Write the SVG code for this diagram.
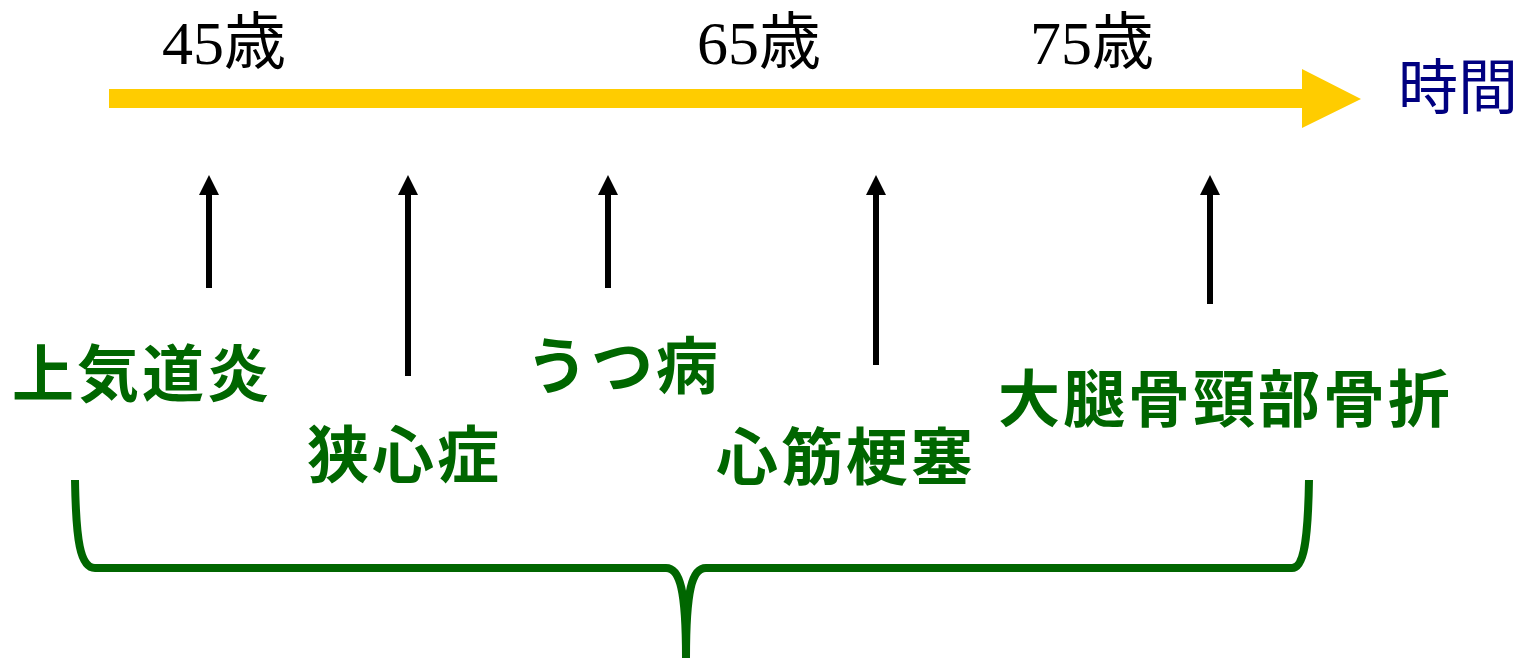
<svg xmlns="http://www.w3.org/2000/svg" width="1523" height="658" viewBox="0 0 1523 658">
<style>
.age{font-family:"Liberation Serif","Noto Sans CJK JP",serif;font-size:62px;fill:#000}
.lbl{font-family:"Noto Sans CJK JP",sans-serif;font-size:62px;font-weight:bold;fill:#006600;letter-spacing:3px}
.time{font-family:"Noto Sans CJK JP",sans-serif;font-size:60px;fill:#000080}
.up{stroke:#000;stroke-width:6;fill:none;marker-end:url(#ah)}
.brace{stroke:#006600;stroke-width:8;fill:none;stroke-linejoin:round}
</style>
<defs>
<marker id="ah" viewBox="0 0 20 20" refX="0" refY="10" markerWidth="20" markerHeight="20" markerUnits="userSpaceOnUse" orient="auto">
<path d="M0,0 L20,10 L0,20 Z" fill="#000"/>
</marker>
</defs>
<g id="timeline">
<polygon points="109,89 1302,89 1302,69 1361,99 1302,128 1302,108 109,108" fill="#FFCC00"/>
</g>
<g id="axis-labels">
<text class="age" x="162" y="64">45歳</text>
<text class="age" x="697" y="64">65歳</text>
<text class="age" x="1030" y="64">75歳</text>
<text class="time" x="1398" y="109">時間</text>
</g>
<g id="connectors">
<line class="up" x1="209" y1="288" x2="209" y2="195"/>
<line class="up" x1="408" y1="376" x2="408" y2="195"/>
<line class="up" x1="608" y1="288" x2="608" y2="195"/>
<line class="up" x1="876" y1="365" x2="876" y2="195"/>
<line class="up" x1="1210" y1="304" x2="1210" y2="195"/>
</g>
<g id="n-jokidoen"><text class="lbl" x="12" y="397">上気道炎</text></g>
<g id="n-kyoshinsho"><text class="lbl" x="307" y="478">狭心症</text></g>
<g id="n-utsubyo"><text class="lbl" x="526" y="389">うつ病</text></g>
<g id="n-shinkinkosoku"><text class="lbl" x="716" y="480">心筋梗塞</text></g>
<g id="n-daitaikotsu"><text class="lbl" x="998" y="422">大腿骨頸部骨折</text></g>
<g id="brace">
<path class="brace" d="M75,480 C76,540 80,568 95,568 L666,568 C680,568 686,590 686,658 M686,658 C686,590 692,568 706,568 L1292,568 C1304,568 1308,540 1309,480"/>
</g>
</svg>
